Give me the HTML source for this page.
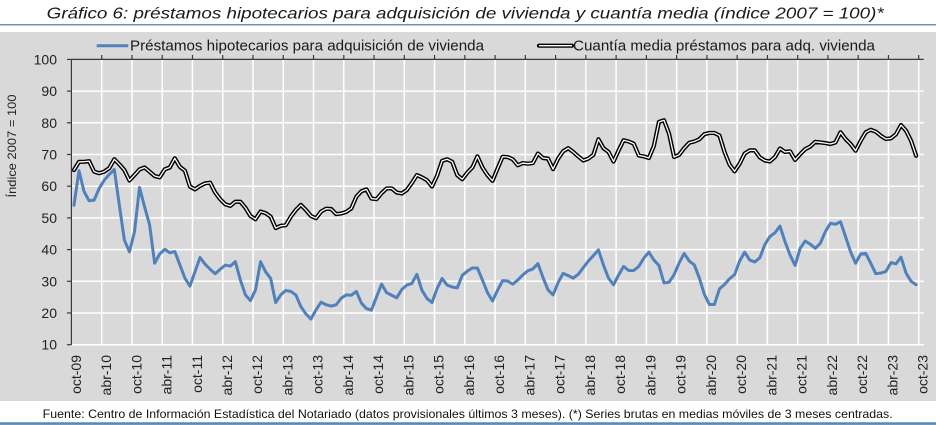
<!DOCTYPE html>
<html><head><meta charset="utf-8"><style>
html,body{margin:0;padding:0;background:#fff;}
svg{display:block;font-family:"Liberation Sans",Arial,sans-serif;}
</style></head><body>
<svg width="936" height="425" viewBox="0 0 936 425" xmlns="http://www.w3.org/2000/svg">
<rect x="0" y="0" width="936" height="425" fill="#ffffff"/>
<text x="46.7" y="18.5" font-size="16" font-style="italic" fill="#1a1a1a" textLength="837" lengthAdjust="spacingAndGlyphs">Gráfico 6: préstamos hipotecarios para adquisición de vivienda y cuantía media (índice 2007 = 100)*</text>
<line x1="0" y1="24.8" x2="936" y2="24.8" stroke="#6f91b8" stroke-width="1.5"/>
<rect x="0" y="32" width="936" height="369" fill="#d9d9d9"/>
<!-- gridlines -->
<g stroke="#ffffff" stroke-width="1.5">
<line x1="71.4" y1="91.1" x2="923.7" y2="91.1"/>
<line x1="71.4" y1="122.8" x2="923.7" y2="122.8"/>
<line x1="71.4" y1="154.5" x2="923.7" y2="154.5"/>
<line x1="71.4" y1="186.2" x2="923.7" y2="186.2"/>
<line x1="71.4" y1="217.9" x2="923.7" y2="217.9"/>
<line x1="71.4" y1="249.6" x2="923.7" y2="249.6"/>
<line x1="71.4" y1="281.3" x2="923.7" y2="281.3"/>
<line x1="71.4" y1="313" x2="923.7" y2="313"/>
<line x1="71.4" y1="344.7" x2="923.7" y2="344.7"/>
<line x1="101.70" y1="59.4" x2="101.70" y2="344.7"/>
<line x1="131.96" y1="59.4" x2="131.96" y2="344.7"/>
<line x1="162.22" y1="59.4" x2="162.22" y2="344.7"/>
<line x1="192.48" y1="59.4" x2="192.48" y2="344.7"/>
<line x1="222.74" y1="59.4" x2="222.74" y2="344.7"/>
<line x1="253.00" y1="59.4" x2="253.00" y2="344.7"/>
<line x1="283.26" y1="59.4" x2="283.26" y2="344.7"/>
<line x1="313.52" y1="59.4" x2="313.52" y2="344.7"/>
<line x1="343.78" y1="59.4" x2="343.78" y2="344.7"/>
<line x1="374.04" y1="59.4" x2="374.04" y2="344.7"/>
<line x1="404.30" y1="59.4" x2="404.30" y2="344.7"/>
<line x1="434.56" y1="59.4" x2="434.56" y2="344.7"/>
<line x1="464.82" y1="59.4" x2="464.82" y2="344.7"/>
<line x1="495.08" y1="59.4" x2="495.08" y2="344.7"/>
<line x1="525.34" y1="59.4" x2="525.34" y2="344.7"/>
<line x1="555.60" y1="59.4" x2="555.60" y2="344.7"/>
<line x1="585.86" y1="59.4" x2="585.86" y2="344.7"/>
<line x1="616.12" y1="59.4" x2="616.12" y2="344.7"/>
<line x1="646.38" y1="59.4" x2="646.38" y2="344.7"/>
<line x1="676.64" y1="59.4" x2="676.64" y2="344.7"/>
<line x1="706.90" y1="59.4" x2="706.90" y2="344.7"/>
<line x1="737.16" y1="59.4" x2="737.16" y2="344.7"/>
<line x1="767.42" y1="59.4" x2="767.42" y2="344.7"/>
<line x1="797.68" y1="59.4" x2="797.68" y2="344.7"/>
<line x1="827.94" y1="59.4" x2="827.94" y2="344.7"/>
<line x1="858.20" y1="59.4" x2="858.20" y2="344.7"/>
<line x1="888.46" y1="59.4" x2="888.46" y2="344.7"/>
<line x1="918.72" y1="59.4" x2="918.72" y2="344.7"/>
</g>
<!-- axes -->
<g stroke="#3a3a3a" stroke-width="1.2">
<line x1="71.4" y1="59.4" x2="923.7" y2="59.4"/>
<line x1="71.4" y1="59.4" x2="71.4" y2="344.7"/>
<line x1="67" y1="59.4" x2="71.4" y2="59.4"/>
<line x1="67" y1="91.1" x2="71.4" y2="91.1"/>
<line x1="67" y1="122.8" x2="71.4" y2="122.8"/>
<line x1="67" y1="154.5" x2="71.4" y2="154.5"/>
<line x1="67" y1="186.2" x2="71.4" y2="186.2"/>
<line x1="67" y1="217.9" x2="71.4" y2="217.9"/>
<line x1="67" y1="249.6" x2="71.4" y2="249.6"/>
<line x1="67" y1="281.3" x2="71.4" y2="281.3"/>
<line x1="67" y1="313" x2="71.4" y2="313"/>
<line x1="67" y1="344.7" x2="71.4" y2="344.7"/>
<line x1="101.70" y1="55" x2="101.70" y2="59.4"/>
<line x1="131.96" y1="55" x2="131.96" y2="59.4"/>
<line x1="162.22" y1="55" x2="162.22" y2="59.4"/>
<line x1="192.48" y1="55" x2="192.48" y2="59.4"/>
<line x1="222.74" y1="55" x2="222.74" y2="59.4"/>
<line x1="253.00" y1="55" x2="253.00" y2="59.4"/>
<line x1="283.26" y1="55" x2="283.26" y2="59.4"/>
<line x1="313.52" y1="55" x2="313.52" y2="59.4"/>
<line x1="343.78" y1="55" x2="343.78" y2="59.4"/>
<line x1="374.04" y1="55" x2="374.04" y2="59.4"/>
<line x1="404.30" y1="55" x2="404.30" y2="59.4"/>
<line x1="434.56" y1="55" x2="434.56" y2="59.4"/>
<line x1="464.82" y1="55" x2="464.82" y2="59.4"/>
<line x1="495.08" y1="55" x2="495.08" y2="59.4"/>
<line x1="525.34" y1="55" x2="525.34" y2="59.4"/>
<line x1="555.60" y1="55" x2="555.60" y2="59.4"/>
<line x1="585.86" y1="55" x2="585.86" y2="59.4"/>
<line x1="616.12" y1="55" x2="616.12" y2="59.4"/>
<line x1="646.38" y1="55" x2="646.38" y2="59.4"/>
<line x1="676.64" y1="55" x2="676.64" y2="59.4"/>
<line x1="706.90" y1="55" x2="706.90" y2="59.4"/>
<line x1="737.16" y1="55" x2="737.16" y2="59.4"/>
<line x1="767.42" y1="55" x2="767.42" y2="59.4"/>
<line x1="797.68" y1="55" x2="797.68" y2="59.4"/>
<line x1="827.94" y1="55" x2="827.94" y2="59.4"/>
<line x1="858.20" y1="55" x2="858.20" y2="59.4"/>
<line x1="888.46" y1="55" x2="888.46" y2="59.4"/>
<line x1="918.72" y1="55" x2="918.72" y2="59.4"/>
</g>
<!-- y labels -->
<g font-size="14" fill="#222" text-anchor="end">
<text x="57" y="64.4">100</text>
<text x="57" y="96.1">90</text>
<text x="57" y="127.8">80</text>
<text x="57" y="159.5">70</text>
<text x="57" y="191.2">60</text>
<text x="57" y="222.9">50</text>
<text x="57" y="254.6">40</text>
<text x="57" y="286.3">30</text>
<text x="57" y="318">20</text>
<text x="57" y="349.7">10</text>
</g>
<text transform="translate(16,146) rotate(-90)" font-size="12" fill="#222" text-anchor="middle" textLength="103" lengthAdjust="spacingAndGlyphs">Índice 2007 = 100</text>
<!-- x labels -->
<g font-size="14" fill="#222" text-anchor="end">
<text transform="translate(80.8,355) rotate(-90)">oct-09</text>
<text transform="translate(111.04,355) rotate(-90)">abr-10</text>
<text transform="translate(141.28,355) rotate(-90)">oct-10</text>
<text transform="translate(171.52,355) rotate(-90)">abr-11</text>
<text transform="translate(201.76,355) rotate(-90)">oct-11</text>
<text transform="translate(232.0,355) rotate(-90)">abr-12</text>
<text transform="translate(262.24,355) rotate(-90)">oct-12</text>
<text transform="translate(292.48,355) rotate(-90)">abr-13</text>
<text transform="translate(322.72,355) rotate(-90)">oct-13</text>
<text transform="translate(352.96,355) rotate(-90)">abr-14</text>
<text transform="translate(383.2,355) rotate(-90)">oct-14</text>
<text transform="translate(413.44,355) rotate(-90)">abr-15</text>
<text transform="translate(443.68,355) rotate(-90)">oct-15</text>
<text transform="translate(473.92,355) rotate(-90)">abr-16</text>
<text transform="translate(504.16,355) rotate(-90)">oct-16</text>
<text transform="translate(534.4,355) rotate(-90)">abr-17</text>
<text transform="translate(564.64,355) rotate(-90)">oct-17</text>
<text transform="translate(594.88,355) rotate(-90)">abr-18</text>
<text transform="translate(625.12,355) rotate(-90)">oct-18</text>
<text transform="translate(655.36,355) rotate(-90)">abr-19</text>
<text transform="translate(685.6,355) rotate(-90)">oct-19</text>
<text transform="translate(715.84,355) rotate(-90)">abr-20</text>
<text transform="translate(746.08,355) rotate(-90)">oct-20</text>
<text transform="translate(776.32,355) rotate(-90)">abr-21</text>
<text transform="translate(806.56,355) rotate(-90)">oct-21</text>
<text transform="translate(836.8,355) rotate(-90)">abr-22</text>
<text transform="translate(867.04,355) rotate(-90)">oct-22</text>
<text transform="translate(897.28,355) rotate(-90)">abr-23</text>
<text transform="translate(927.52,355) rotate(-90)">oct-23</text>
</g>
<!-- series -->
<g transform="matrix(5.043 0 0 -3.17 73.96 376.4)" fill="none" stroke-linejoin="round" stroke-linecap="round">
<polyline vector-effect="non-scaling-stroke" stroke="#4f81bd" stroke-width="3" points="0,54 1,64.9 2,58.3 3,55.4 4,55.6 5,59.3 6,61.9 7,63.7 8,65.3 9,54 10,43 11,39.3 12,45.6 13,59.6 14,53.5 15,47.8 16,35.7 17,38.6 18,40.1 19,39 20,39.4 21,35.2 22,31 23,28.5 24,33 25,37.5 26,35.4 27,33.8 28,32.4 29,33.8 30,35.1 31,34.8 32,36.2 33,30.4 34,25.7 35,23.9 36,27.3 37,36.2 38,33 39,30.9 40,23.3 41,25.7 42,27.1 43,26.8 44,25.7 45,22 46,19.7 47,18.1 48,21 49,23.4 50,22.6 51,22.2 52,22.6 53,24.7 54,25.7 55,25.6 56,26.8 57,23.1 58,21.4 59,20.9 60,25.1 61,29.1 62,26.4 63,25.6 64,24.8 65,27.4 66,28.8 67,29.3 68,32.2 69,27.2 70,24.6 71,23.3 72,27.7 73,30.9 74,28.8 75,28.2 76,27.9 77,31.9 78,33.2 79,34.2 80,34.2 81,30.4 82,26.4 83,23.8 84,27.2 85,30.2 86,30.1 87,29.1 88,30.4 89,32 90,33.3 91,33.9 92,35.6 93,31.2 94,27.3 95,25.7 96,29.6 97,32.5 98,31.8 99,31 100,32.2 101,34.3 102,36.4 103,38.1 104,39.9 105,35.1 106,31 107,28.9 108,32 109,34.7 110,33.4 111,33.4 112,34.7 113,37.3 114,39.2 115,36.7 116,35 117,29.5 118,29.7 119,32.1 120,35.8 121,38.8 122,36.4 123,35.2 124,31.1 125,25.9 126,22.7 127,22.7 128,27.6 129,29 130,30.8 131,32.1 132,36.4 133,39.2 134,36.7 135,36.1 136,37.4 137,41.6 138,44.1 139,45.3 140,47.4 141,42.5 142,38.3 143,35 144,40.4 145,42.7 146,41.7 147,40.4 148,42 149,45.7 150,48.3 151,48 152,48.8 153,44.1 154,39.3 155,35.7 156,38.6 157,38.8 158,35.7 159,32.4 160,32.6 161,33.1 162,35.9 163,35.5 164,37.6 165,32.6 166,30 167,28.9"/>
<polyline id="blk" vector-effect="non-scaling-stroke" stroke="#000000" stroke-width="4.2" points="0,65.1 1,67.7 2,67.7 3,67.9 4,64.6 5,64.1 6,64.6 7,65.7 8,68.5 9,66.9 10,65.1 11,61.8 12,63.5 13,65.3 14,65.9 15,64.6 16,63.2 17,62.8 18,65.3 19,65.9 20,68.8 21,66.1 22,64.9 23,59.9 24,59 25,60.1 26,60.9 27,61.1 28,58 29,55.9 30,54.3 31,53.8 32,55.1 33,55.1 34,53.2 35,50.6 36,49.6 37,52 38,51.5 39,50.4 40,46.8 41,47.5 42,47.7 43,50.4 44,52.5 45,54.1 46,52.5 47,50.6 48,49.9 49,52 50,52.9 51,52.8 52,51.2 53,51.4 54,51.9 55,53 56,56.7 57,58.4 58,59 59,56.1 60,55.9 61,57.8 62,59.3 63,59.3 64,58 65,57.7 66,58.8 67,61 68,63.5 69,62.8 70,61.9 71,59.9 72,63.3 73,68 74,68.5 75,67.7 76,63.5 77,62.2 78,64.3 79,65.9 80,69.4 81,65.9 82,63.5 83,61.7 84,65.6 85,69.3 86,69.2 87,68.5 88,66.6 89,67.3 90,67.1 91,67.3 92,70.3 93,68.9 94,68.7 95,65.4 96,68.7 97,71 98,72 99,70.8 100,69.4 101,68.1 102,68.7 103,69.9 104,74.8 105,72 106,70.8 107,67.8 108,71.3 109,74.5 110,74.1 111,73.4 112,69.7 113,69.4 114,68.9 115,72.7 116,80.3 117,80.8 118,76.6 119,69.2 120,69.9 121,72 122,73.7 123,74.1 124,74.8 125,76.4 126,76.8 127,76.8 128,76 129,70.8 130,66.8 131,64.7 132,67.1 133,70.3 134,71.3 135,71.3 136,69.1 137,68.1 138,67.8 139,69.2 140,71.9 141,70.8 142,71 143,68.3 144,70.1 145,71.7 146,72.5 147,74 148,73.8 149,73.6 150,73.3 151,73.8 152,77 153,74.9 154,73.3 155,71.2 156,74.3 157,77 158,77.8 159,77.2 160,75.9 161,74.9 162,75.1 163,76.4 164,79.3 165,77.5 166,74.3 167,69.6"/>
<polyline vector-effect="non-scaling-stroke" stroke="#ffffff" stroke-width="1.3" points="0,65.1 1,67.7 2,67.7 3,67.9 4,64.6 5,64.1 6,64.6 7,65.7 8,68.5 9,66.9 10,65.1 11,61.8 12,63.5 13,65.3 14,65.9 15,64.6 16,63.2 17,62.8 18,65.3 19,65.9 20,68.8 21,66.1 22,64.9 23,59.9 24,59 25,60.1 26,60.9 27,61.1 28,58 29,55.9 30,54.3 31,53.8 32,55.1 33,55.1 34,53.2 35,50.6 36,49.6 37,52 38,51.5 39,50.4 40,46.8 41,47.5 42,47.7 43,50.4 44,52.5 45,54.1 46,52.5 47,50.6 48,49.9 49,52 50,52.9 51,52.8 52,51.2 53,51.4 54,51.9 55,53 56,56.7 57,58.4 58,59 59,56.1 60,55.9 61,57.8 62,59.3 63,59.3 64,58 65,57.7 66,58.8 67,61 68,63.5 69,62.8 70,61.9 71,59.9 72,63.3 73,68 74,68.5 75,67.7 76,63.5 77,62.2 78,64.3 79,65.9 80,69.4 81,65.9 82,63.5 83,61.7 84,65.6 85,69.3 86,69.2 87,68.5 88,66.6 89,67.3 90,67.1 91,67.3 92,70.3 93,68.9 94,68.7 95,65.4 96,68.7 97,71 98,72 99,70.8 100,69.4 101,68.1 102,68.7 103,69.9 104,74.8 105,72 106,70.8 107,67.8 108,71.3 109,74.5 110,74.1 111,73.4 112,69.7 113,69.4 114,68.9 115,72.7 116,80.3 117,80.8 118,76.6 119,69.2 120,69.9 121,72 122,73.7 123,74.1 124,74.8 125,76.4 126,76.8 127,76.8 128,76 129,70.8 130,66.8 131,64.7 132,67.1 133,70.3 134,71.3 135,71.3 136,69.1 137,68.1 138,67.8 139,69.2 140,71.9 141,70.8 142,71 143,68.3 144,70.1 145,71.7 146,72.5 147,74 148,73.8 149,73.6 150,73.3 151,73.8 152,77 153,74.9 154,73.3 155,71.2 156,74.3 157,77 158,77.8 159,77.2 160,75.9 161,74.9 162,75.1 163,76.4 164,79.3 165,77.5 166,74.3 167,69.6"/>
</g>
<!-- legend -->
<line x1="96.7" y1="45.7" x2="128.3" y2="45.7" stroke="#4f81bd" stroke-width="3"/>
<text x="130" y="50.5" font-size="15" fill="#1a1a1a" textLength="354" lengthAdjust="spacingAndGlyphs">Préstamos hipotecarios para adquisición de vivienda</text>
<line x1="539" y1="45.7" x2="572" y2="45.7" stroke="#000" stroke-width="4.2" stroke-linecap="round"/>
<line x1="539" y1="45.7" x2="572" y2="45.7" stroke="#fff" stroke-width="1.3"/>
<text x="573" y="50.5" font-size="15" fill="#1a1a1a" textLength="302" lengthAdjust="spacingAndGlyphs">Cuantía media préstamos para adq. vivienda</text>
<!-- footer -->
<text x="42.7" y="418" font-size="12" fill="#111" textLength="850" lengthAdjust="spacingAndGlyphs">Fuente: Centro de Información Estadística del Notariado (datos provisionales últimos 3 meses). (*) Series brutas en medias móviles de 3 meses centradas.</text>
<line x1="0" y1="423.6" x2="936" y2="423.6" stroke="#5b86b8" stroke-width="2.6"/>
</svg>
</body></html>
